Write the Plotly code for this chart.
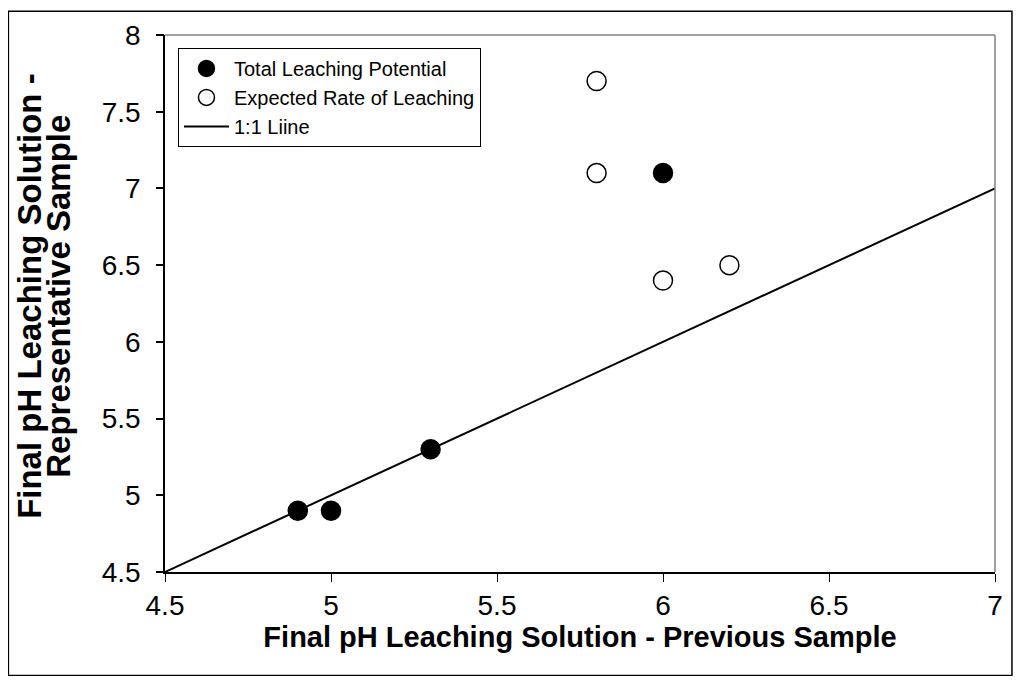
import plotly.graph_objects as go

total_x = [4.9, 5.0, 5.3, 6.0]
total_y = [4.9, 4.9, 5.3, 7.1]
expected_x = [5.8, 5.8, 6.0, 6.2]
expected_y = [7.7, 7.1, 6.4, 6.5]
line_x = [4.5, 7.0]
line_y = [4.5, 7.0]

x_ticks = [4.5, 5, 5.5, 6, 6.5, 7]
y_ticks = [4.5, 5, 5.5, 6, 6.5, 7, 7.5, 8]
y_title_lines = ["Final pH Leaching Solution -", "Representative Sample"]
x_title = "Final pH Leaching Solution - Previous Sample"

fig = go.Figure()
fig.add_trace(go.Scatter(x=total_x, y=total_y, mode="markers", name="Total Leaching Potential",
                         marker=dict(size=19, color="black", line=dict(color="black", width=1.5))))
fig.add_trace(go.Scatter(x=expected_x, y=expected_y, mode="markers", name="Expected Rate of Leaching",
                         marker=dict(size=19, color="white", line=dict(color="black", width=1.5))))
fig.add_trace(go.Scatter(x=line_x, y=line_y, mode="lines", name="1:1 Liine",
                         line=dict(color="black", width=2)))
# invisible trace on the overlay axis so it draws its (visible) short ticks
fig.add_trace(go.Scatter(x=line_x, y=line_y, mode="lines", yaxis="y2", showlegend=False,
                         hoverinfo="skip", line=dict(color="rgba(0,0,0,0)", width=0)))

OFF = 8  # browser body margin
W, H = 1023 - 2 * OFF, 684 - 2 * OFF
L, T = 165 - OFF, 32 - OFF
pw, ph = 832, 540
R = W - L - pw
B = H - T - ph


def px(x):
    return (x - OFF - L) / pw


def py(y):
    return (T + ph - (y - OFF)) / ph


annotations = []
for cx, txt in zip([29, 58], y_title_lines):
    annotations.append(dict(text=f"<b>{txt}</b>", xref="paper", yref="paper",
                            x=px(cx), y=py(295), xanchor="center", yanchor="middle",
                            textangle=-90, showarrow=False, font=dict(size=33)))

fig.update_layout(
    width=W, height=H,
    margin=dict(l=L, r=R, t=T, b=B),
    paper_bgcolor="white", plot_bgcolor="white",
    font=dict(family="Liberation Sans, Arial, sans-serif", color="black"),
    showlegend=True,
    legend=dict(x=px(178), y=py(45), xanchor="left", yanchor="top",
                bordercolor="black", borderwidth=1, bgcolor="white",
                font=dict(size=20), itemwidth=45, tracegroupgap=0),
    xaxis=dict(range=[4.5, 7], tickvals=x_ticks, ticktext=[f"{v:g}" for v in x_ticks],
               showgrid=False, zeroline=False, showline=True, linecolor="black", linewidth=1.5,
               ticks="outside", ticklen=8, tickcolor="black", tickfont=dict(size=28),
               title=dict(text=f"<b>{x_title}</b>", font=dict(size=29), standoff=0)),
    yaxis=dict(range=[4.5, 8], tickvals=y_ticks, ticktext=[f"{v:g}" for v in y_ticks],
               showgrid=False, zeroline=False, showline=True, linecolor="black", linewidth=1.5,
               ticks="outside", ticklen=17, tickcolor="rgba(0,0,0,0)", tickfont=dict(size=28)),
    yaxis2=dict(range=[4.5, 8], tickvals=y_ticks, overlaying="y", side="left", anchor="x",
                showgrid=False, zeroline=False, showline=False, showticklabels=False,
                ticks="outside", ticklen=8, tickcolor="black", tickwidth=1.5),
    annotations=annotations,
    shapes=[
        dict(type="line", xref="paper", yref="paper", x0=0, x1=1, y0=1, y1=1,
             line=dict(color="#808080", width=1.5)),
        dict(type="line", xref="paper", yref="paper", x0=1, x1=1, y0=0, y1=1,
             line=dict(color="#808080", width=1.5)),
        dict(type="rect", xref="paper", yref="paper", x0=px(8), x1=px(1014), y0=py(676), y1=py(8),
             line=dict(color="black", width=1.5), layer="below"),
    ],
)

fig.write_html("out.html")
